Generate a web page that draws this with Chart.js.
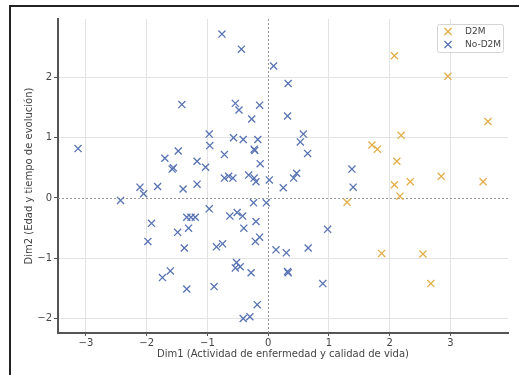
<!DOCTYPE html>
<html>
<head>
<meta charset="utf-8">
<script src="https://cdn.jsdelivr.net/npm/chart.js@4/dist/chart.umd.min.js"></script>
<style>
  html, body { margin: 0; padding: 0; background: #fff; }
  canvas { display: block; }
</style>
</head>
<body>
<canvas id="chart" width="519" height="375"></canvas>
<script>
// ticks
const xTicks = [-3, -2, -1, 0, 1, 2, 3];
const xTickLabels = ['\u22123', '\u22122', '\u22121', '0', '1', '2', '3'];
const yTicks = [-2, -1, 0, 1, 2];
const yTickLabels = ['\u22122', '\u22121', '0', '1', '2'];

// D2M
const d2mX = [2.08, 2.96, 3.62, 2.19, 1.71, 1.80, 2.12, 2.08, 2.34, 2.85, 3.54, 2.17, 1.30, 1.87, 2.55, 2.68];
const d2mY = [2.36, 2.02, 1.27, 1.04, 0.88, 0.81, 0.61, 0.22, 0.27, 0.36, 0.27, 0.03, -0.07, -0.92, -0.93, -1.42];

// No-D2M
const noX = [
  -0.76, -0.44, 0.09, 0.33, -1.42, -0.54, -0.48, -0.14, -0.27, 0.32,
  -0.97, -0.96, -0.57, -0.41, -0.17, -0.23, -0.22, 0.58, 0.53, 0.65,
  -3.13, -1.48, -1.70, -1.58, -1.56, -1.17, -1.03, -0.72, -0.13, -0.72,
  -0.65, -0.58, -0.32, -0.23, -0.20, 0.02, -2.11, -2.05, -1.82, -1.40,
  -1.17, 0.25, 0.42, 0.47, 1.38, 1.40,
  -2.43, -0.24, -0.03, -0.97, -1.92, -1.98, -1.49, -1.38, -1.31, -1.34,
  -1.27, -1.20, -0.63, -0.51, -0.42, -0.40, -0.20, -0.85, -0.75, -0.21,
  -0.14, 0.13, 0.30, 0.66, 0.98, -1.74, -1.61, -1.34, -0.89, -0.52,
  -0.54, -0.46, -0.28, 0.32, 0.33, 0.90, -0.18, -0.41, -0.30
];
const noY = [
  2.72, 2.47, 2.19, 1.90, 1.55, 1.57, 1.46, 1.54, 1.31, 1.36,
  1.06, 0.87, 1.00, 0.97, 0.97, 0.81, 0.79, 1.06, 0.93, 0.74,
  0.82, 0.78, 0.66, 0.48, 0.50, 0.61, 0.51, 0.72, 0.57, 0.33,
  0.36, 0.33, 0.38, 0.33, 0.27, 0.30, 0.18, 0.07, 0.19, 0.15,
  0.23, 0.17, 0.33, 0.41, 0.48, 0.18,
  -0.04, -0.08, -0.08, -0.18, -0.42, -0.72, -0.57, -0.83, -0.50, -0.32,
  -0.32, -0.32, -0.30, -0.24, -0.30, -0.50, -0.39, -0.81, -0.76, -0.72,
  -0.65, -0.86, -0.91, -0.83, -0.52, -1.32, -1.21, -1.51, -1.47, -1.07,
  -1.16, -1.14, -1.24, -1.22, -1.24, -1.42, -1.77, -2.00, -1.97
];

const orange = '#e2ae48';
const blue = '#5873b3';
const textColor = '#444';
const font = { family: 'DejaVu Sans', size: 10 };
const markR = 5;
const markW = 1.3;

const toPoints = (xs, ys) => xs.map((x, i) => ({ x, y: ys[i] }));

// outer frame + dotted zero lines + boxed legend
const decorations = {
  id: 'decorations',
  beforeDraw(chart) {
    const c = chart.ctx;
    c.save();
    c.fillStyle = '#fff';
    c.fillRect(0, 0, chart.width, chart.height);
    c.strokeStyle = '#222';
    c.lineWidth = 2;
    c.beginPath();
    c.moveTo(10, chart.height);
    c.lineTo(10, 6);
    c.lineTo(chart.width, 6);
    c.stroke();
    c.restore();
  },
  beforeDatasetsDraw(chart) {
    const { ctx: c, chartArea: a, scales } = chart;
    const x0 = Math.round(scales.x.getPixelForValue(0)) + 0.5;
    const y0 = Math.round(scales.y.getPixelForValue(0)) + 0.5;
    c.save();
    c.strokeStyle = '#999';
    c.lineWidth = 1;
    c.setLineDash([2, 2]);
    c.beginPath();
    c.moveTo(x0, a.top);
    c.lineTo(x0, a.bottom);
    c.moveTo(a.left, y0);
    c.lineTo(a.right, y0);
    c.stroke();
    c.restore();
  },
  afterDraw(chart) {
    const c = chart.ctx;
    const bx = 437, by = 24, bw = 66, bh = 28;
    c.save();
    c.fillStyle = 'rgba(255,255,255,0.85)';
    c.strokeStyle = '#d4d4d4';
    c.lineWidth = 1;
    c.beginPath();
    c.roundRect(bx + 0.5, by + 0.5, bw, bh, 2);
    c.fill();
    c.stroke();
    c.font = '9px "DejaVu Sans"';
    c.textBaseline = 'middle';
    chart.data.datasets.forEach((ds, i) => {
      const y = by + 7.5 + i * 13;
      c.strokeStyle = ds.borderColor;
      c.lineWidth = markW;
      Chart.helpers.drawPoint(c, { pointStyle: 'crossRot', radius: markR, borderWidth: markW }, 448, y);
      c.fillStyle = textColor;
      c.fillText(ds.label, 465, y);
    });
    c.restore();
  }
};

new Chart(document.getElementById('chart'), {
  type: 'scatter',
  data: {
    datasets: [
      {
        label: 'D2M',
        data: toPoints(d2mX, d2mY),
        borderColor: orange,
        backgroundColor: orange,
        pointStyle: 'crossRot',
        pointRadius: markR,
        pointBorderWidth: markW
      },
      {
        label: 'No-D2M',
        data: toPoints(noX, noY),
        borderColor: blue,
        backgroundColor: blue,
        pointStyle: 'crossRot',
        pointRadius: markR,
        pointBorderWidth: markW
      }
    ]
  },
  options: {
    responsive: false,
    animation: false,
    layout: { padding: { top: 19, right: 11, left: 0, bottom: 0 } },
    plugins: {
      legend: { display: false },
      tooltip: { enabled: false }
    },
    scales: {
      x: {
        type: 'linear',
        min: -3.46,
        max: 3.95,
        afterFit: s => { s.height = 42; },
        afterBuildTicks: s => { s.ticks = xTicks.map(v => ({ value: v })); },
        ticks: {
          color: textColor,
          font,
          padding: 1,
          maxRotation: 0,
          autoSkip: false,
          callback: v => xTickLabels[xTicks.indexOf(v)]
        },
        grid: {
          color: c => (c.tick && c.tick.value === 0 ? 'rgba(0,0,0,0)' : '#e3e3e3'),
          tickColor: '#555',
          tickLength: 3
        },
        border: { display: true, color: '#555', width: 2 },
        title: {
          display: true,
          text: 'Dim1 (Actividad de enfermedad y calidad de vida)',
          color: textColor,
          font,
          padding: { top: 0, bottom: 15 }
        }
      },
      y: {
        type: 'linear',
        min: -2.24,
        max: 2.97,
        afterFit: s => { s.width = 58; },
        afterBuildTicks: s => { s.ticks = yTicks.map(v => ({ value: v })); },
        ticks: {
          color: textColor,
          font,
          padding: 2,
          autoSkip: false,
          callback: v => yTickLabels[yTicks.indexOf(v)]
        },
        grid: {
          color: c => (c.tick && c.tick.value === 0 ? 'rgba(0,0,0,0)' : '#e3e3e3'),
          tickColor: '#555',
          tickLength: 4
        },
        border: { display: true, color: '#555', width: 2 },
        title: {
          display: true,
          text: 'Dim2 (Edad y tiempo de evolución)',
          color: textColor,
          font,
          padding: { top: 23, bottom: 0 }
        }
      }
    }
  },
  plugins: [decorations]
});
</script>
</body>
</html>
